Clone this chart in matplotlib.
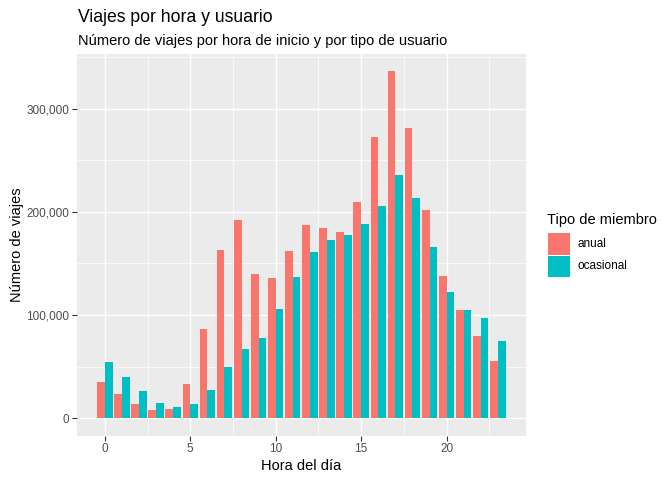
import matplotlib
matplotlib.use("Agg")
import matplotlib.pyplot as plt
from matplotlib.patches import Rectangle
from matplotlib.ticker import FuncFormatter, MultipleLocator
import numpy as np

hours = list(range(24))
anual = [35300, 23600, 13900, 8100, 9100, 33300, 86700, 163400, 192600, 140100,
         136200, 162500, 187700, 184800, 180900, 210000, 272200, 336200, 280900,
         202300, 138200, 105200, 79900, 55700]
ocasional = [54700, 40100, 26500, 14900, 11000, 13900, 27500, 49800, 67300, 78000,
             106100, 137200, 161500, 173100, 178000, 188700, 206100, 235300, 213900,
             166300, 122700, 105200, 97400, 75100]
series_names = ["anual", "ocasional"]
colors = ["#F8766D", "#00BFC4"]

plt.rcParams['font.family'] = ['Liberation Sans', 'DejaVu Sans']

W, H = 672, 480
fig = plt.figure(figsize=(6.72, 4.8), dpi=100)
ax = fig.add_axes([76.7 / W, 1 - 435.6 / H, (526 - 76.7) / W, (435.6 - 54) / H])
ax.set_facecolor("#EBEBEB")

x = np.array(hours)
bw = 0.45
ax.bar(x - bw / 2, anual, width=bw, color=colors[0], zorder=3)
ax.bar(x + bw / 2, ocasional, width=bw, color=colors[1], zorder=3)

ymax = max(max(anual), max(ocasional))
ax.set_ylim(-0.05 * ymax, 1.05 * ymax)
xr = (23 + 0.45) - (-0.45)
ax.set_xlim(-0.45 - 0.05 * xr, 23.45 + 0.05 * xr)

ax.xaxis.set_major_locator(MultipleLocator(5))
ax.xaxis.set_minor_locator(MultipleLocator(2.5))
ax.yaxis.set_major_locator(MultipleLocator(100000))
ax.yaxis.set_minor_locator(MultipleLocator(50000))
ax.yaxis.set_major_formatter(FuncFormatter(lambda v, p: f"{int(v):,}"))

ax.grid(which="major", color="white", linewidth=1.0, zorder=0)
ax.grid(which="minor", color="white", linewidth=0.5, zorder=0)
ax.set_axisbelow(True)
for s in ax.spines.values():
    s.set_visible(False)

ax.tick_params(which="major", length=3.5, width=0.8, color="#333333",
               labelcolor="#4D4D4D", labelsize=8.45, pad=2)
ax.tick_params(which="minor", length=0)

ax.set_xlabel("Hora del día", fontsize=10.56, color="black", labelpad=3)
ax.set_ylabel("Número de viajes", fontsize=10.56, color="black", labelpad=1.5)

fig.text(77.5 / W, 1 - 22 / H, "Viajes por hora y usuario", fontsize=12.67,
         ha="left", va="baseline", color="black")
fig.text(77.5 / W, 1 - 45.5 / H, "Número de viajes por hora de inicio y por tipo de usuario",
         fontsize=10.56, ha="left", va="baseline", color="black")

# legend
fig.text(547.3 / W, 1 - 220 / H, "Tipo de miembro", fontsize=10.56,
         ha="left", va="center", color="black")
key_tops = [233.3, 255.5]
for name, col, top in zip(series_names, colors, key_tops):
    fig.patches.append(Rectangle((548 / W, 1 - (top + 21.7) / H), 21.5 / W, 21.7 / H,
                                 transform=fig.transFigure, facecolor=col,
                                 edgecolor="none"))
    fig.text(577.3 / W, 1 - (top + 10.85) / H, name, fontsize=8.45,
             ha="left", va="center", color="black")

fig.savefig("out.png", dpi=100)
